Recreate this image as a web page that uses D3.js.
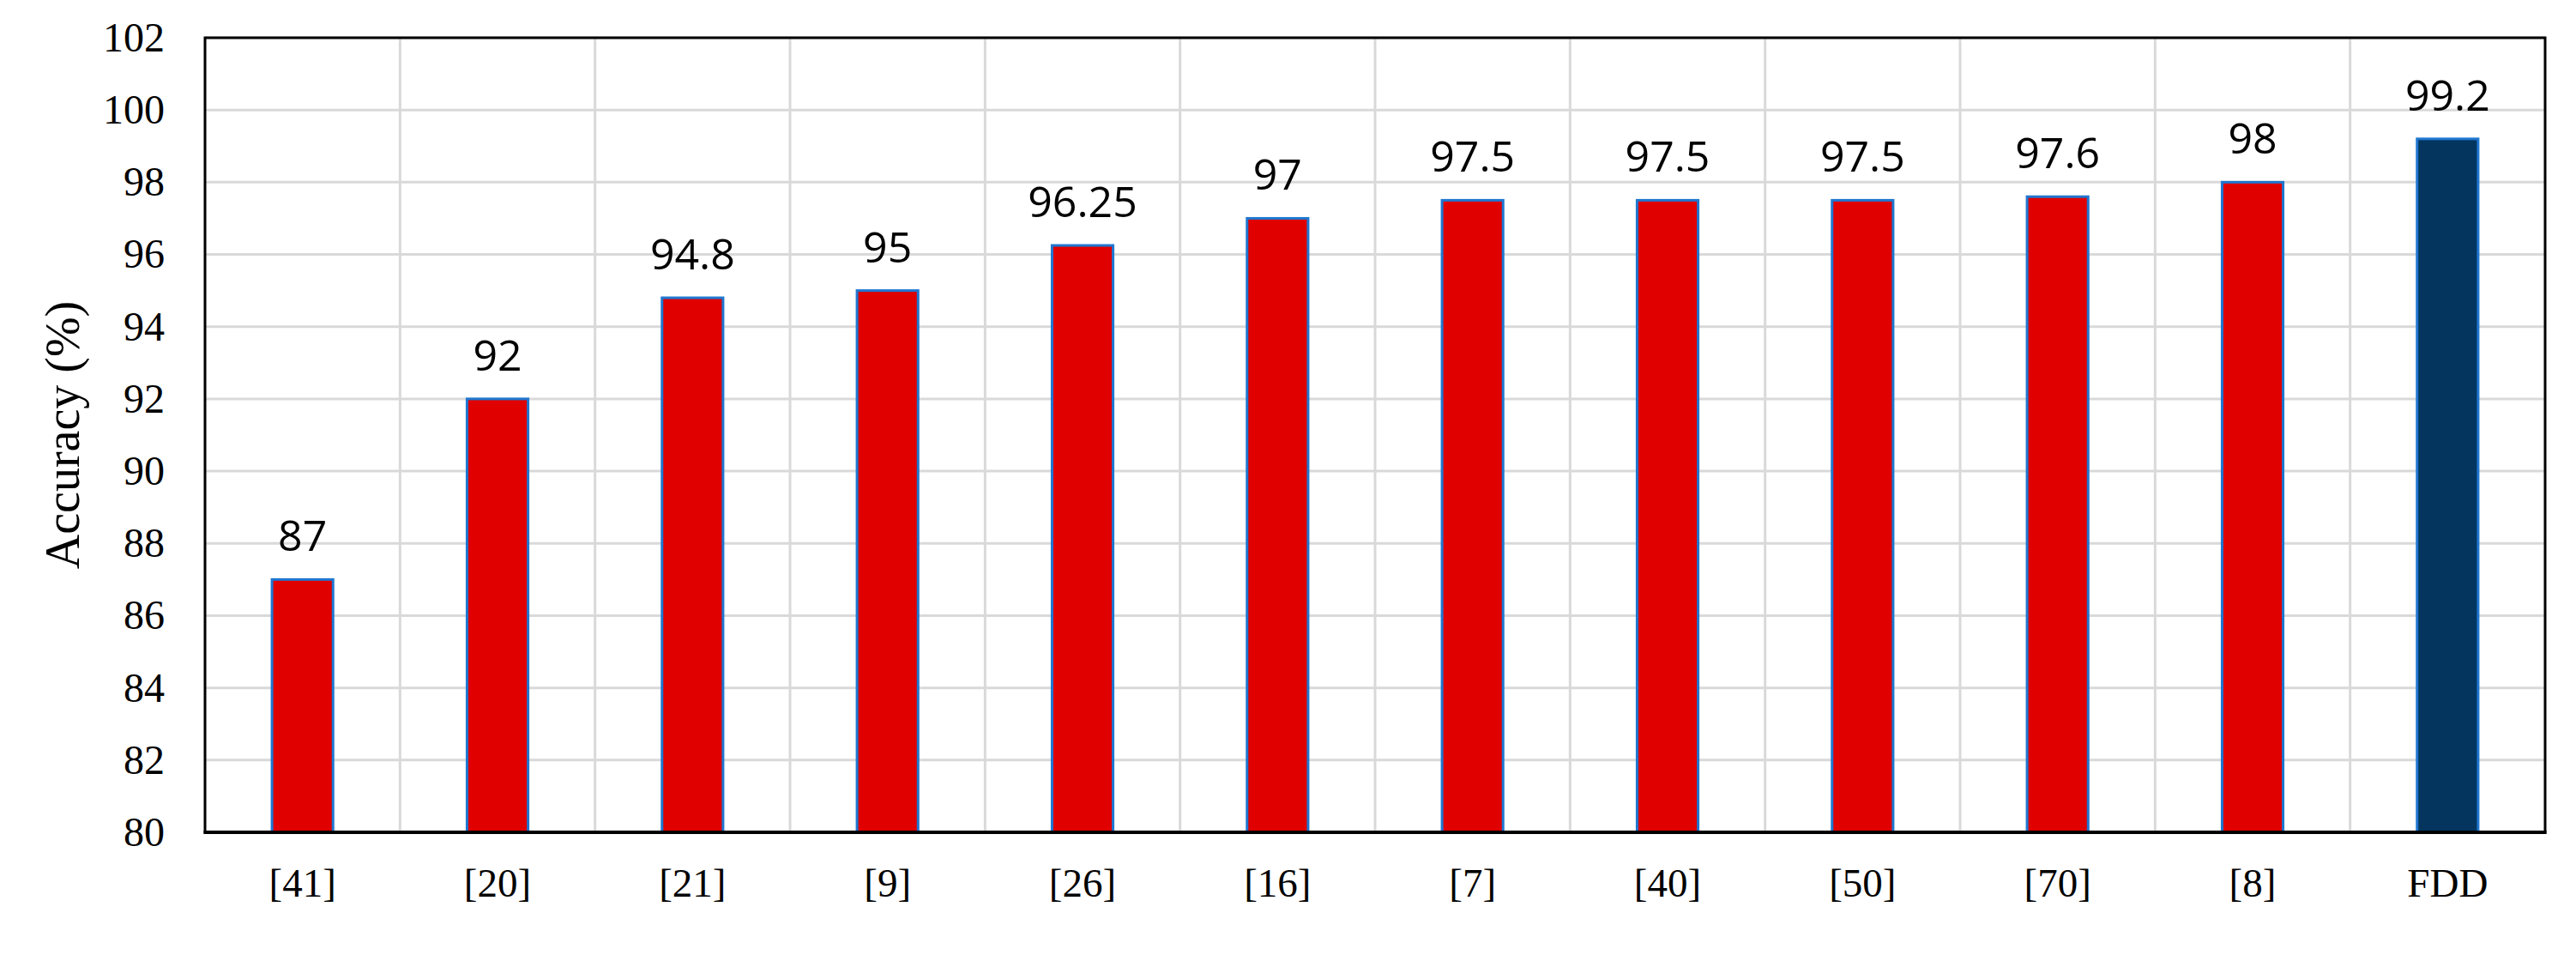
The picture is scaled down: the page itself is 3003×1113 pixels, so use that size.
<!DOCTYPE html>
<html>
<head>
<meta charset="utf-8">
<script src="https://cdn.jsdelivr.net/npm/d3@7"></script>
<style>
  html, body { margin: 0; padding: 0; background: #fff; }
  svg { display: block; }
</style>
</head>
<body>
<svg id="chart" width="3003" height="1113"></svg>
<script>
const categories = ["[41]", "[20]", "[21]", "[9]", "[26]", "[16]", "[7]", "[40]", "[50]", "[70]", "[8]", "FDD"];
const accuracy = [87, 92, 94.8, 95, 96.25, 97, 97.5, 97.5, 97.5, 97.6, 98, 99.2];
const valueLabels = ["87", "92", "94.8", "95", "96.25", "97", "97.5", "97.5", "97.5", "97.6", "98", "99.2"];
const yTicks = [80, 82, 84, 86, 88, 90, 92, 94, 96, 98, 100, 102];
const highlight = "FDD";

(function () {
const svg = d3.select("#chart");
const mLeft = 239, mRight = 2967, mTop = 44, mBottom = 970;

svg.append("rect").attr("width", 3003).attr("height", 1113).attr("fill", "#fff");

const x = d3.scaleBand().domain(categories).range([mLeft, mRight])
  .paddingInner(0.687).paddingOuter(0.687 / 2);
const y = d3.scaleLinear().domain([80, 102]).range([mBottom, mTop]);

// horizontal gridlines
svg.append("g").selectAll("line").data(yTicks).join("line")
  .attr("x1", mLeft).attr("x2", mRight)
  .attr("y1", d => y(d)).attr("y2", d => y(d))
  .attr("stroke", "#d9d9d9").attr("stroke-width", 3);

// vertical gridlines at category boundaries
const step = x.step();
svg.append("g").selectAll("line").data(categories.slice(1)).join("line")
  .attr("x1", d => x(d) - x.paddingInner() * step / 2)
  .attr("x2", d => x(d) - x.paddingInner() * step / 2)
  .attr("y1", mTop).attr("y2", mBottom)
  .attr("stroke", "#d9d9d9").attr("stroke-width", 3);

// bars
svg.append("g").selectAll("rect").data(categories).join("rect")
  .attr("x", d => x(d))
  .attr("y", (d, i) => y(accuracy[i]))
  .attr("width", x.bandwidth())
  .attr("height", (d, i) => y(80) - y(accuracy[i]))
  .attr("fill", d => d === highlight ? "#03355F" : "#E00000")
  .attr("stroke", "#1F77D0").attr("stroke-width", 3);

// value labels
svg.append("g").selectAll("text").data(categories).join("text")
  .attr("x", d => x(d) + x.bandwidth() / 2)
  .attr("y", (d, i) => y(accuracy[i]) - 33)
  .attr("text-anchor", "middle")
  .attr("font-family", "'Open Sans', 'Liberation Sans', sans-serif")
  .attr("font-size", 50)
  .attr("fill", "#000")
  .text((d, i) => valueLabels[i]);

// frame
svg.append("rect").attr("x", mLeft).attr("y", mTop)
  .attr("width", mRight - mLeft).attr("height", mBottom - mTop)
  .attr("fill", "none").attr("stroke", "#000").attr("stroke-width", 3);

// y axis
const yAxis = d3.axisLeft(y).tickValues(yTicks).tickSize(0).tickPadding(47);
const gy = svg.append("g").attr("transform", `translate(${mLeft},0)`).call(yAxis);
gy.select(".domain").remove();
gy.selectAll("text")
  .attr("font-family", "'Liberation Serif', 'Times New Roman', serif")
  .attr("font-size", 48).attr("fill", "#000");

// x axis
const xAxis = d3.axisBottom(x).tickSize(0).tickPadding(42);
const gx = svg.append("g").attr("transform", `translate(0,${mBottom})`).call(xAxis);
gx.select(".domain").remove();
gx.selectAll("text")
  .attr("font-family", "'Liberation Serif', 'Times New Roman', serif")
  .attr("font-size", 47).attr("fill", "#000");

// bottom axis line (slightly heavier)
svg.append("line").attr("x1", mLeft - 1.5).attr("x2", mRight + 1.5)
  .attr("y1", mBottom).attr("y2", mBottom)
  .attr("stroke", "#000").attr("stroke-width", 4);

// y axis title
svg.append("text")
  .attr("transform", `translate(92,${(mTop + mBottom) / 2}) rotate(-90)`)
  .attr("text-anchor", "middle")
  .attr("font-family", "'Liberation Serif', 'Times New Roman', serif")
  .attr("font-size", 56).attr("fill", "#000")
  .text("Accuracy (%)");
})();
</script>
</body>
</html>
